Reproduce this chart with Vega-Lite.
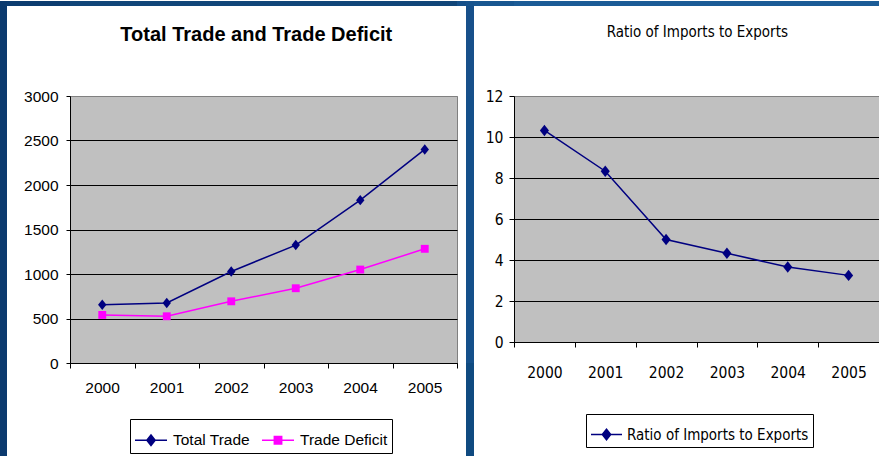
{
  "$schema": "https://vega.github.io/schema/vega-lite/v6.json",
  "background": "white",
  "padding": 0,
  "datasets": {
    "trade": [
      {"year": 2000, "series": "Total Trade", "value": 655},
      {"year": 2001, "series": "Total Trade", "value": 675},
      {"year": 2002, "series": "Total Trade", "value": 1028},
      {"year": 2003, "series": "Total Trade", "value": 1325},
      {"year": 2004, "series": "Total Trade", "value": 1830},
      {"year": 2005, "series": "Total Trade", "value": 2400},
      {"year": 2000, "series": "Trade Deficit", "value": 540},
      {"year": 2001, "series": "Trade Deficit", "value": 525},
      {"year": 2002, "series": "Trade Deficit", "value": 693},
      {"year": 2003, "series": "Trade Deficit", "value": 840},
      {"year": 2004, "series": "Trade Deficit", "value": 1050},
      {"year": 2005, "series": "Trade Deficit", "value": 1283}
    ],
    "ratio": [
      {"year": 2000, "series": "Ratio of Imports to Exports", "value": 10.32},
      {"year": 2001, "series": "Ratio of Imports to Exports", "value": 8.33},
      {"year": 2002, "series": "Ratio of Imports to Exports", "value": 5.0},
      {"year": 2003, "series": "Ratio of Imports to Exports", "value": 4.33},
      {"year": 2004, "series": "Ratio of Imports to Exports", "value": 3.66},
      {"year": 2005, "series": "Ratio of Imports to Exports", "value": 3.25}
    ],
    "blank": [{}]
  },
  "config": {
    "view": {"stroke": null},
    "axis": {
      "labelFont": "Liberation Sans",
      "labelColor": "black",
      "domainColor": "black",
      "tickColor": "black",
      "gridColor": "black",
      "gridWidth": 1,
      "domainWidth": 1,
      "tickWidth": 1,
      "labelFlush": false,
      "labelOverlap": false,
      "title": null
    },
    "legend": {
      "labelColor": "black",
      "strokeColor": "black",
      "fillColor": "white",
      "title": null,
      "labelLimit": 400
    }
  },
  "spacing": 0,
  "bounds": "flush",
  "align": "each",
  "columns": 7,
  "resolve": {"scale": {"color": "independent", "x": "independent", "y": "independent"}, "legend": {"color": "independent"}},
  "concat": [
    {"data": {"name": "blank"}, "width": 7, "height": 5, "view": {"fill": "#0b3a6e"}, "mark": {"type": "point", "opacity": 0}},
    {"data": {"name": "blank"}, "width": 63, "height": 5, "view": {"fill": "#0c3c70"}, "mark": {"type": "point", "opacity": 0}},
    {"data": {"name": "blank"}, "width": 387, "height": 5, "view": {"fill": "#114679"}, "mark": {"type": "point", "opacity": 0}},
    {"data": {"name": "blank"}, "width": 9, "height": 5, "view": {"fill": "#15508a"}, "mark": {"type": "point", "opacity": 0}},
    {"data": {"name": "blank"}, "width": 8, "height": 5, "view": {"fill": "#17538d"}, "mark": {"type": "point", "opacity": 0}},
    {"data": {"name": "blank"}, "width": 40, "height": 5, "view": {"fill": "#185690"}, "mark": {"type": "point", "opacity": 0}},
    {"data": {"name": "blank"}, "width": 365, "height": 5, "view": {"fill": "#1b5b96"}, "mark": {"type": "point", "opacity": 0}},

    {"data": {"name": "blank"}, "width": 7, "height": 90, "view": {"fill": "#0b3a6e"}, "mark": {"type": "point", "opacity": 0}},
    {"data": {"name": "blank"}, "width": 63, "height": 90, "mark": {"type": "point", "opacity": 0}},
    {"data": {"name": "blank"}, "width": 387, "height": 90, "mark": {"type": "point", "opacity": 0}},
    {"data": {"name": "blank"}, "width": 9, "height": 90, "mark": {"type": "point", "opacity": 0}},
    {"data": {"name": "blank"}, "width": 8, "height": 90, "view": {"fill": "#17508a"}, "mark": {"type": "point", "opacity": 0}},
    {"data": {"name": "blank"}, "width": 40, "height": 90, "mark": {"type": "point", "opacity": 0}},
    {"data": {"name": "blank"}, "width": 365, "height": 90, "mark": {"type": "point", "opacity": 0}},

    {"data": {"name": "blank"}, "width": 7, "height": 267, "view": {"fill": "#0b3a6e"}, "mark": {"type": "point", "opacity": 0}},
    {"data": {"name": "blank"}, "width": 63, "height": 267, "mark": {"type": "point", "opacity": 0}},
    {
      "data": {"name": "trade"},
      "width": 387,
      "height": 267,
      "view": {"fill": "#c0c0c0", "stroke": "#808080"},
      "title": {"text": "Total Trade and Trade Deficit", "font": "Liberation Sans", "fontSize": 20, "fontWeight": "bold", "color": "black", "anchor": "middle", "frame": "bounds", "offset": 44},
      "encoding": {
        "x": {"field": "year", "type": "quantitative",
          "scale": {"domain": [1999.5, 2005.5], "nice": false, "zero": false},
          "axis": {"values": [1999.5, 2000.5, 2001.5, 2002.5, 2003.5, 2004.5, 2005.5],
            "labelExpr": "datum.value > 2005 ? '' : format(datum.value + 0.5, 'd')",
            "labelOffset": 32, "tickSize": 5, "labelPadding": 12, "grid": false, "labelFontSize": 15.5}},
        "y": {"field": "value", "type": "quantitative",
          "scale": {"domain": [0, 3000], "nice": false},
          "axis": {"values": [0, 500, 1000, 1500, 2000, 2500, 3000], "format": "d", "grid": true,
            "gridColor": {"condition": {"test": "datum.value >= 3000", "value": "#808080"}, "value": "black"},
            "tickSize": 4, "labelPadding": 8, "labelFontSize": 15.5}},
        "color": {"field": "series", "type": "nominal",
          "scale": {"domain": ["Total Trade", "Trade Deficit"], "range": ["#000080", "#ff00ff"]},
          "legend": {"orient": "none", "legendX": 60, "legendY": 323, "direction": "horizontal",
            "labelFont": "Liberation Sans", "labelFontSize": 15.5, "labelOffset": 5, "columnPadding": 9,
            "padding": 4, "symbolSize": 1024, "symbolStrokeWidth": 1.5,
            "encode": {"symbols": {"update": {
              "shape": [{"test": "datum.value === 'Total Trade'", "value": "M-1,0L1,0M-0.26,0L0,-0.33L0.26,0L0,0.33Z"}, {"value": "M-1,0L1,0M-0.23,-0.23L0.23,-0.23L0.23,0.23L-0.23,0.23Z"}],
              "fill": [{"test": "datum.value === 'Total Trade'", "value": "#000080"}, {"value": "#ff00ff"}],
              "fillOpacity": {"value": 1}
            }}}}}
      },
      "layer": [
        {"mark": {"type": "line", "strokeWidth": 1.5}},
        {"transform": [{"filter": "datum.series === 'Total Trade'"}],
          "mark": {"type": "point", "filled": true, "opacity": 1, "size": 110, "shape": "M-0.8,0L0,-1L0.8,0L0,1Z"}},
        {"transform": [{"filter": "datum.series === 'Trade Deficit'"}],
          "mark": {"type": "point", "filled": true, "opacity": 1, "size": 110, "shape": "M-0.75,-0.75L0.75,-0.75L0.75,0.75L-0.75,0.75Z"}}
      ]
    },
    {"data": {"name": "blank"}, "width": 9, "height": 267, "mark": {"type": "point", "opacity": 0}},
    {"data": {"name": "blank"}, "width": 8, "height": 267, "view": {"fill": "#15508a"}, "mark": {"type": "point", "opacity": 0}},
    {"data": {"name": "blank"}, "width": 40, "height": 267, "mark": {"type": "point", "opacity": 0}},
    {
      "data": {"name": "ratio"},
      "width": 365,
      "height": 246,
      "view": {"fill": "#c0c0c0", "stroke": "#808080"},
      "title": {"text": "Ratio of Imports to Exports", "font": "Liberation Sans Narrow, Arial Narrow, DejaVu Sans Condensed, sans-serif", "fontSize": 15, "fontWeight": "normal", "color": "black", "anchor": "middle", "frame": "bounds", "offset": 49},
      "encoding": {
        "x": {"field": "year", "type": "quantitative",
          "scale": {"domain": [1999.5, 2005.5], "nice": false, "zero": false},
          "axis": {"values": [1999.5, 2000.5, 2001.5, 2002.5, 2003.5, 2004.5, 2005.5],
            "labelExpr": "datum.value > 2005 ? '' : format(datum.value + 0.5, 'd')",
            "labelFont": "Liberation Sans Narrow, Arial Narrow, DejaVu Sans Condensed, sans-serif",
            "labelOffset": 30.4, "tickSize": 5, "labelPadding": 18, "grid": false, "labelFontSize": 15.5}},
        "y": {"field": "value", "type": "quantitative",
          "scale": {"domain": [0, 12], "nice": false},
          "axis": {"values": [0, 2, 4, 6, 8, 10, 12], "grid": true,
            "gridColor": {"condition": {"test": "datum.value >= 12", "value": "#808080"}, "value": "black"},
            "labelFont": "Liberation Sans Narrow, Arial Narrow, DejaVu Sans Condensed, sans-serif",
            "tickSize": 5, "labelPadding": 6, "labelFontSize": 15.5}},
        "color": {"field": "series", "type": "nominal",
          "scale": {"domain": ["Ratio of Imports to Exports"], "range": ["#000080"]},
          "legend": {"orient": "none", "legendX": 72, "legendY": 318, "direction": "horizontal",
            "labelFont": "Liberation Sans Narrow, Arial Narrow, DejaVu Sans Condensed, sans-serif", "labelFontSize": 15, "labelOffset": 4,
            "padding": 4, "symbolSize": 961, "symbolStrokeWidth": 1.5,
            "encode": {"symbols": {"update": {
              "shape": {"value": "M-1,0L1,0M-0.27,0L0,-0.34L0.27,0L0,0.34Z"},
              "fill": {"value": "#000080"},
              "fillOpacity": {"value": 1}
            }}}}}
      },
      "layer": [
        {"mark": {"type": "line", "strokeWidth": 1.5}},
        {"mark": {"type": "point", "filled": true, "opacity": 1, "size": 130, "shape": "M-0.8,0L0,-1L0.8,0L0,1Z"}}
      ]
    },

    {"data": {"name": "blank"}, "width": 7, "height": 94, "view": {"fill": "#0b3a6e"}, "mark": {"type": "point", "opacity": 0}},
    {"data": {"name": "blank"}, "width": 63, "height": 94, "mark": {"type": "point", "opacity": 0}},
    {"data": {"name": "blank"}, "width": 387, "height": 94, "mark": {"type": "point", "opacity": 0}},
    {"data": {"name": "blank"}, "width": 9, "height": 94, "mark": {"type": "point", "opacity": 0}},
    {"data": {"name": "blank"}, "width": 8, "height": 94, "view": {"fill": "#0f4a80"}, "mark": {"type": "point", "opacity": 0}},
    {"data": {"name": "blank"}, "width": 40, "height": 94, "mark": {"type": "point", "opacity": 0}},
    {"data": {"name": "blank"}, "width": 365, "height": 94, "mark": {"type": "point", "opacity": 0}}
  ]
}
